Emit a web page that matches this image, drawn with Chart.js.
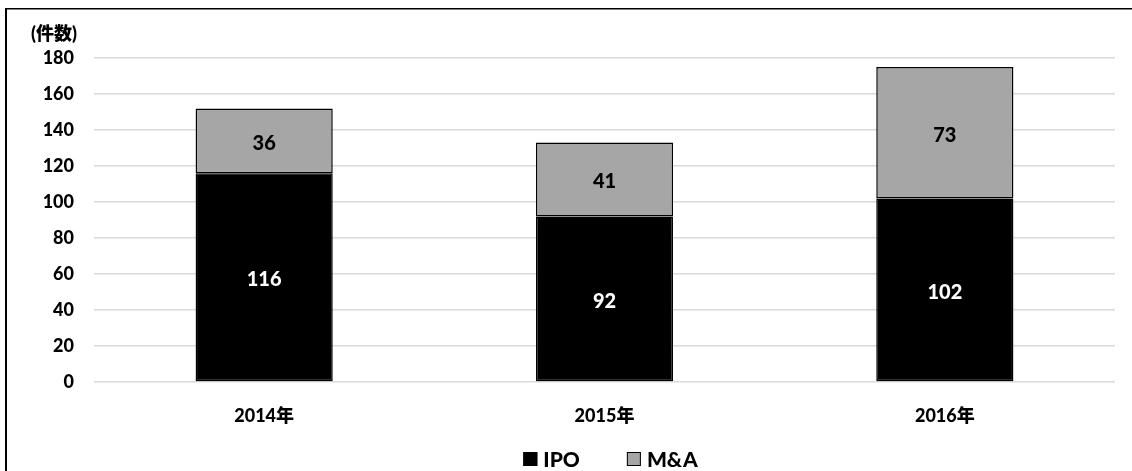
<!DOCTYPE html>
<html>
<head>
<meta charset="utf-8">
<script src="https://cdn.jsdelivr.net/npm/chart.js@4/dist/chart.umd.min.js"></script>
<style>
  html, body { margin: 0; padding: 0; background: #fff; }
  #wrap { width: 1132px; height: 471px; position: relative; }
</style>
</head>
<body>
<div id="wrap"><canvas id="c"></canvas></div>
<script>
const categories = ['2014年', '2015年', '2016年'];
const ipoCounts = [116, 92, 102];
const maCounts = [36, 41, 73];
const seriesNames = ['IPO', 'M&A'];
const unitLabel = '(件数)';
const yTicks = [0, 20, 40, 60, 80, 100, 120, 140, 160, 180];

const FONT = "Lato, 'Noto Sans CJK JP', sans-serif";
const WEIGHT = '900';

// value labels centred inside each bar segment
const segmentLabels = {
  id: 'segmentLabels',
  afterDatasetsDraw(chart) {
    const ctx = chart.ctx;
    ctx.save();
    ctx.font = WEIGHT + ' 20px ' + FONT;
    ctx.textAlign = 'center';
    ctx.textBaseline = 'middle';
    chart.data.datasets.forEach((ds, di) => {
      const meta = chart.getDatasetMeta(di);
      meta.data.forEach((el, i) => {
        ctx.fillStyle = ds.labelColor;
        ctx.fillText(String(ds.data[i]), el.x, (el.y + el.base) / 2 + 2.5);
      });
    });
    ctx.restore();
  }
};

// frame lines, unit caption and the series key under the category axis
const frameAndKey = {
  id: 'frameAndKey',
  afterDraw(chart) {
    const ctx = chart.ctx;
    ctx.save();
    ctx.fillStyle = '#000';
    ctx.fillRect(5, 8, 2, chart.height - 8);
    ctx.fillRect(5, 8, chart.width - 5, 1.5);

    ctx.font = WEIGHT + ' 18px ' + FONT;
    ctx.textAlign = 'left';
    ctx.textBaseline = 'middle';
    ctx.fillText(unitLabel, 31, 34);

    // series key
    const box = 14, boxGap = 6, itemGap = 47, cy = 459;
    ctx.font = WEIGHT + ' 21px ' + FONT;
    const items = chart.data.datasets.map(ds => ({
      text: ds.label, fill: ds.backgroundColor, w: ctx.measureText(ds.label).width
    }));
    const total = items.reduce((s, it) => s + box + boxGap + it.w, 0) + itemGap * (items.length - 1);
    const area = chart.chartArea;
    let x = (area.left + area.right) / 2 - total / 2 + 6;
    items.forEach(it => {
      ctx.fillStyle = it.fill;
      ctx.fillRect(x, cy - box / 2, box, box);
      ctx.strokeStyle = '#000';
      ctx.lineWidth = 1;
      ctx.strokeRect(x + 0.5, cy - box / 2 + 0.5, box - 1, box - 1);
      ctx.fillStyle = '#000';
      ctx.fillText(it.text, x + box + boxGap, cy + 1);
      x += box + boxGap + it.w + itemGap;
    });
    ctx.restore();
  }
};

new Chart(document.getElementById('c'), {
  type: 'bar',
  data: {
    labels: categories,
    datasets: [
      {
        label: seriesNames[0],
        data: ipoCounts,
        backgroundColor: '#000000',
        borderColor: '#000000',
        borderWidth: 1.5,
        borderSkipped: false,
        labelColor: '#ffffff'
      },
      {
        label: seriesNames[1],
        data: maCounts,
        backgroundColor: '#a6a6a6',
        borderColor: '#000000',
        borderWidth: 1.5,
        borderSkipped: false,
        labelColor: '#000000'
      }
    ]
  },
  options: {
    responsive: true,
    maintainAspectRatio: false,
    animation: false,
    layout: { padding: { left: 0, right: 17, top: 58, bottom: 0 } },
    datasets: { bar: { categoryPercentage: 1, barPercentage: 0.403 } },
    plugins: {
      legend: { display: false },
      tooltip: { enabled: false }
    },
    scales: {
      x: {
        stacked: true,
        grid: { display: false, drawTicks: false },
        border: { display: false },
        ticks: { color: '#000', padding: 23, font: { family: FONT, size: 18, weight: WEIGHT } },
        afterFit(s) { s.height = 89; }
      },
      y: {
        stacked: true,
        min: 0,
        max: 180,
        afterBuildTicks(s) { s.ticks = yTicks.map(v => ({ value: v })); },
        grid: { color: '#d9d9d9', lineWidth: 1.5, drawTicks: false },
        border: { display: false },
        ticks: { color: '#000', padding: 20, font: { family: FONT, size: 18, weight: WEIGHT } },
        afterFit(s) { s.width = 94; }
      }
    }
  },
  plugins: [segmentLabels, frameAndKey]
});
</script>
</body>
</html>
